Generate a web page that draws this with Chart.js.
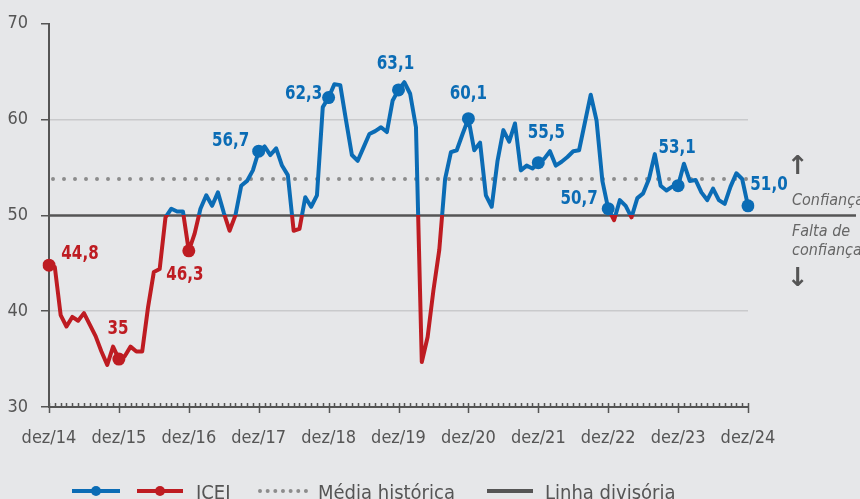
<!DOCTYPE html>
<html>
<head>
<meta charset="utf-8">
<script src="https://cdn.jsdelivr.net/npm/chart.js@4/dist/chart.umd.min.js"></script>
<style>
  body { margin: 0; background: #e6e7e9; }
  #wrap { position: relative; width: 860px; height: 499px; overflow: hidden; background: #e6e7e9;
          font-family: 'Liberation Sans Narrow', 'DejaVu Sans Condensed', sans-serif; color: #555; }
  canvas { position: absolute; left: 0; top: 0; }
  .note { position: absolute; font-style: italic; font-size: 16px; color: #666; line-height: 19px; white-space: nowrap; }
  .arrow { position: absolute; font-size: 26px; font-weight: bold; color: #555; font-family: 'DejaVu Sans', sans-serif; line-height: 26px; }
  .lg { position: absolute; top: 480px; font-size: 20px; color: #555; white-space: nowrap; }
  .sw { position: absolute; top: 489px; height: 4px; }
  .dot { position: absolute; top: 486px; width: 10px; height: 10px; border-radius: 50%; }
</style>
</head>
<body>
<div id="wrap">
  <canvas id="chart" width="860" height="499"></canvas>

  <div class="arrow" style="left:787px;top:152px">↑</div>
  <div class="note" style="left:792px;top:190px">Confiança</div>
  <div class="note" style="left:792px;top:221px">Falta de<br>confiança</div>
  <div class="arrow" style="left:787px;top:264px">↓</div>

  <div class="sw" style="left:72px;width:48px;background:#0b6cb5"></div>
  <div class="dot" style="left:91px;background:#0b6cb5"></div>
  <div class="sw" style="left:137px;width:46px;background:#be1c22"></div>
  <div class="dot" style="left:155px;background:#be1c22"></div>
  <div class="lg" style="left:196px">ICEI</div>
  <div class="sw" style="left:258px;width:50px;height:0;border-top:4px dotted #8c8c8c"></div>
  <div class="lg" style="left:318px">Média histórica</div>
  <div class="sw" style="left:487px;width:46px;background:#555"></div>
  <div class="lg" style="left:545px">Linha divisória</div>
</div>

<script>
// ICEI, mensal de dez/14 a dez/24
const meses = ["jan", "fev", "mar", "abr", "mai", "jun", "jul", "ago", "set", "out", "nov", "dez"];

const icei = [
  44.8, 44.6, 39.6, 38.4, 39.4, 39.0, 39.8, 38.6, 37.4, 35.8, 34.4, 36.3,
  35.0, 35.3, 36.3, 35.8, 35.8, 40.4, 44.1, 44.4, 49.8, 50.7, 50.4, 50.4,
  46.3, 48.1, 50.7, 52.1, 51.0, 52.4, 50.3, 48.4, 50.0, 53.1, 53.6, 54.7,
  56.7, 57.2, 56.3, 57.0, 55.2, 54.2, 48.4, 48.6, 51.9, 50.9, 52.1, 61.3,
  62.3, 63.7, 63.6, 59.9, 56.3, 55.7, 57.1, 58.5, 58.8, 59.2, 58.7, 62.0,
  63.1, 63.9, 62.7, 59.2, 34.7, 37.3, 42.2, 46.4, 53.8, 56.6, 56.8, 58.5,
  60.1, 56.8, 57.6, 52.1, 50.9, 55.7, 58.9, 57.7, 59.6, 54.7, 55.2, 54.9,
  55.5, 55.9, 56.7, 55.2, 55.6, 56.1, 56.7, 56.8, 59.7, 62.6, 59.9, 53.6,
  50.7, 49.5, 51.6, 51.0, 49.8, 51.8, 52.3, 53.8, 56.4, 53.1, 52.6, 53.0,
  53.1, 55.4, 53.6, 53.7, 52.4, 51.6, 52.8, 51.6, 51.2, 53.0, 54.4, 53.8,
  51.0
];

// pontos destacados (todos os dezembros) e seus rótulos
const destaqueIdx = [0, 12, 24, 36, 48, 60, 72, 84, 96, 108, 120];
const destaqueTxt = ["44,8", "35", "46,3", "56,7", "62,3", "63,1", "60,1", "55,5", "50,7", "53,1", "51,0"];

const mediaHistorica = 53.8;
const linhaDivisoria = 50;

const AZUL = "#0b6cb5";
const VERMELHO = "#be1c22";
const CINZA = "#555";
const FONTE = "'Liberation Sans Narrow', 'DejaVu Sans Condensed', sans-serif";

const labels = icei.map((v, i) => {
  const m = (11 + i) % 12;
  const a = 14 + Math.floor((11 + i) / 12);
  return meses[m] + "/" + a;
});

// deslocamento do texto de cada rótulo em relação ao ponto
const rotuloPos = [
  [31, -11], [-1, -30], [-4, 24], [-28, -10], [-25, -4], [-3, -26],
  [0, -25], [8, -30], [-29, -10], [-1, -38], [21, -21]
];

const linhasRef = {
  id: "linhasRef",
  beforeDatasetsDraw(chart) {
    const { ctx, chartArea, scales } = chart;
    const x = scales.x, y = scales.y;

    // média histórica
    const ym = y.getPixelForValue(mediaHistorica);
    ctx.save();
    ctx.strokeStyle = "#8c8c8c";
    ctx.lineWidth = 4;
    ctx.lineCap = "round";
    ctx.setLineDash([0, 11]);
    ctx.beginPath();
    ctx.moveTo(chartArea.left + 4, ym);
    ctx.lineTo(chartArea.right, ym);
    ctx.stroke();
    ctx.restore();

    // linha divisória
    const yd = y.getPixelForValue(linhaDivisoria);
    ctx.save();
    ctx.strokeStyle = CINZA;
    ctx.lineWidth = 2.5;
    ctx.beginPath();
    ctx.moveTo(chartArea.left, yd);
    ctx.lineTo(856, yd);
    ctx.stroke();

    // marcas mensais do eixo x
    ctx.lineWidth = 1.5;
    ctx.beginPath();
    for (let i = 0; i < labels.length; i++) {
      const px = Math.round(x.getPixelForValue(i)) + 0.5;
      const dez = labels[i].startsWith("dez");
      ctx.moveTo(px, chartArea.bottom - 4);
      ctx.lineTo(px, chartArea.bottom + (dez ? 6 : 0));
    }
    ctx.stroke();
    ctx.restore();
  }
};

const rotulos = {
  id: "rotulos",
  afterDatasetsDraw(chart) {
    const { ctx } = chart;
    const meta = chart.getDatasetMeta(0);
    ctx.save();
    ctx.font = "bold 20px " + FONTE;
    ctx.textAlign = "center";
    ctx.textBaseline = "middle";
    destaqueIdx.forEach((idx, k) => {
      const pt = meta.data[idx];
      ctx.fillStyle = icei[idx] < linhaDivisoria ? VERMELHO : AZUL;
      ctx.save();
      ctx.translate(pt.x + rotuloPos[k][0], pt.y + rotuloPos[k][1]);
      ctx.scale(0.84, 1);
      ctx.fillText(destaqueTxt[k], 0, 0);
      ctx.restore();
    });
    ctx.restore();
  }
};

function corLinha(context) {
  const chart = context.chart;
  const { ctx, chartArea, scales } = chart;
  if (!chartArea) return AZUL;
  const y50 = scales.y.getPixelForValue(linhaDivisoria);
  const stop = (y50 - chartArea.top) / (chartArea.bottom - chartArea.top);
  const g = ctx.createLinearGradient(0, chartArea.top, 0, chartArea.bottom);
  g.addColorStop(0, AZUL);
  g.addColorStop(stop, AZUL);
  g.addColorStop(stop, VERMELHO);
  g.addColorStop(1, VERMELHO);
  return g;
}

new Chart(document.getElementById("chart"), {
  type: "line",
  data: {
    labels: labels,
    datasets: [{
      label: "ICEI",
      data: icei,
      borderColor: corLinha,
      borderWidth: 4,
      borderJoinStyle: "round",
      tension: 0,
      pointRadius: ctx => destaqueIdx.includes(ctx.dataIndex) ? 6.5 : 0,
      pointBackgroundColor: ctx => icei[ctx.dataIndex] < linhaDivisoria ? VERMELHO : AZUL,
      pointBorderWidth: 0
    }]
  },
  options: {
    responsive: false,
    animation: false,
    layout: { padding: { top: 23, right: 112, left: 0, bottom: 0 } },
    plugins: { legend: { display: false }, tooltip: { enabled: false } },
    scales: {
      x: {
        afterFit: s => { s.height = 92; },
        grid: { display: false, drawTicks: false },
        border: { color: CINZA, width: 2 },
        ticks: {
          autoSkip: false,
          maxRotation: 0,
          padding: 21,
          color: CINZA,
          font: { family: FONTE, size: 18 },
          callback: (v, i) => labels[i].startsWith("dez") ? labels[i] : ""
        }
      },
      y: {
        min: 30,
        max: 70,
        afterFit: s => { s.width = 49; },
        border: { color: CINZA, width: 2 },
        grid: {
          color: ctx => (ctx.tick && (ctx.tick.value === 40 || ctx.tick.value === 60)) ? "#c9cacc" : "rgba(0,0,0,0)",
          lineWidth: 1.5,
          tickLength: 8,
          tickColor: CINZA
        },
        ticks: {
          stepSize: 10,
          padding: 13,
          color: CINZA,
          font: { family: FONTE, size: 18 }
        }
      }
    }
  },
  plugins: [linhasRef, rotulos]
});
</script>
</body>
</html>
